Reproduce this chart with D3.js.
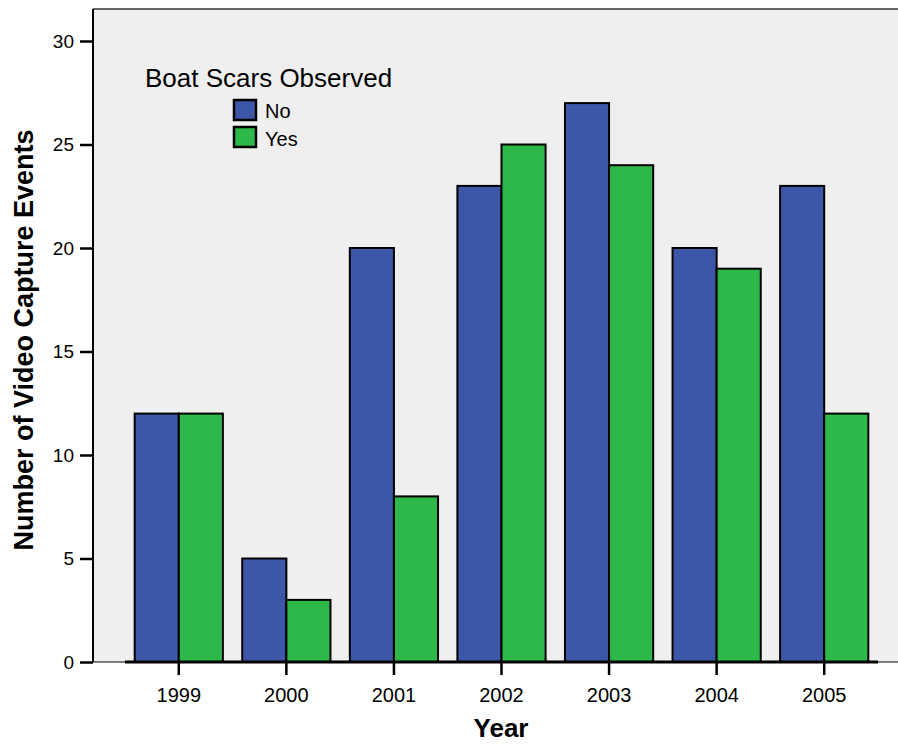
<!DOCTYPE html>
<html><head><meta charset="utf-8">
<script src="https://cdn.jsdelivr.net/npm/d3@7"></script>
<style>body{margin:0;background:#fff}svg{display:block;font-family:"Liberation Sans",Arial,sans-serif}</style>
</head><body><svg id="c" width="898" height="744"></svg>
<script>
const years = ["1999","2000","2001","2002","2003","2004","2005"];
const seriesNames = ["No","Yes"];
const noValues = [12,5,20,23,27,20,23];
const yesValues = [12,3,8,25,24,19,12];
const yTicks = [0,5,10,15,20,25,30];
const colors = ["#3d57a8","#2eb84a"];

(function(){
const svg = d3.select("#c");
const FF = "Liberation Sans, Arial, sans-serif";
const pL = 93, pT = 9, pR = 898, pB = 662;
svg.append("rect").attr("x",pL).attr("y",pT).attr("width",pR-pL).attr("height",pB-pT).attr("fill","#efefef");
svg.append("line").attr("x1",pL).attr("x2",pR).attr("y1",pT).attr("y2",pT).attr("stroke","#333").attr("stroke-width",1.5);

const y = d3.scaleLinear().domain([0,30]).range([pB,41]);
const x = d3.scaleBand().domain(years).range([125,878]).paddingInner(0.18).paddingOuter(0.09);
const xs = d3.scaleBand().domain(seriesNames).range([0,x.bandwidth()]);

svg.append("line").attr("x1",pL).attr("x2",pR).attr("y1",pB).attr("y2",pB).attr("stroke","#000").attr("stroke-width",1);

const data = years.map((yr,i)=>({yr, vals:[noValues[i],yesValues[i]]}));
const g = svg.append("g");
data.forEach(d=>{
  d.vals.forEach((v,j)=>{
    g.append("rect")
      .attr("x",x(d.yr)+xs(seriesNames[j]))
      .attr("y",y(v))
      .attr("width",xs.bandwidth())
      .attr("height",y(0)-y(v))
      .attr("fill",colors[j]).attr("stroke","#000").attr("stroke-width",2);
  });
});

const xAxis = svg.append("g").attr("transform",`translate(0,${pB})`)
  .call(d3.axisBottom(x).tickSize(13).tickPadding(13));
xAxis.select(".domain").attr("d",`M125,0H878`).attr("stroke","#000").attr("stroke-width",3);
xAxis.selectAll(".tick line").attr("stroke","#000").attr("stroke-width",2.5);
xAxis.selectAll(".tick text").attr("font-size",20).attr("fill","#000").attr("font-family",FF);

const yAxis = svg.append("g").attr("transform",`translate(${pL},0)`)
  .call(d3.axisLeft(y).tickValues(yTicks).tickSize(13).tickPadding(6));
yAxis.select(".domain").attr("d",`M0,${pT}V${pB}`).attr("stroke","#000").attr("stroke-width",2);
yAxis.selectAll(".tick line").attr("stroke","#000").attr("stroke-width",2.5);
yAxis.selectAll(".tick text").attr("font-size",19).attr("fill","#000").attr("font-family",FF);

svg.append("text").attr("x",501).attr("y",737).attr("text-anchor","middle")
  .attr("font-size",26).attr("font-weight","bold").text("Year");
svg.append("text").attr("transform","translate(33,340) rotate(-90)").attr("text-anchor","middle")
  .attr("font-size",27).attr("font-weight","bold").text("Number of Video Capture Events");

svg.append("text").attr("x",145).attr("y",87).attr("font-size",26).text("Boat Scars Observed");
seriesNames.forEach((n,i)=>{
  svg.append("rect").attr("x",234).attr("y",100+i*27).attr("width",22).attr("height",20)
    .attr("fill",colors[i]).attr("stroke","#000").attr("stroke-width",2.5);
  svg.append("text").attr("x",265).attr("y",118+i*28).attr("font-size",20).text(n);
});
})();
</script></body></html>
